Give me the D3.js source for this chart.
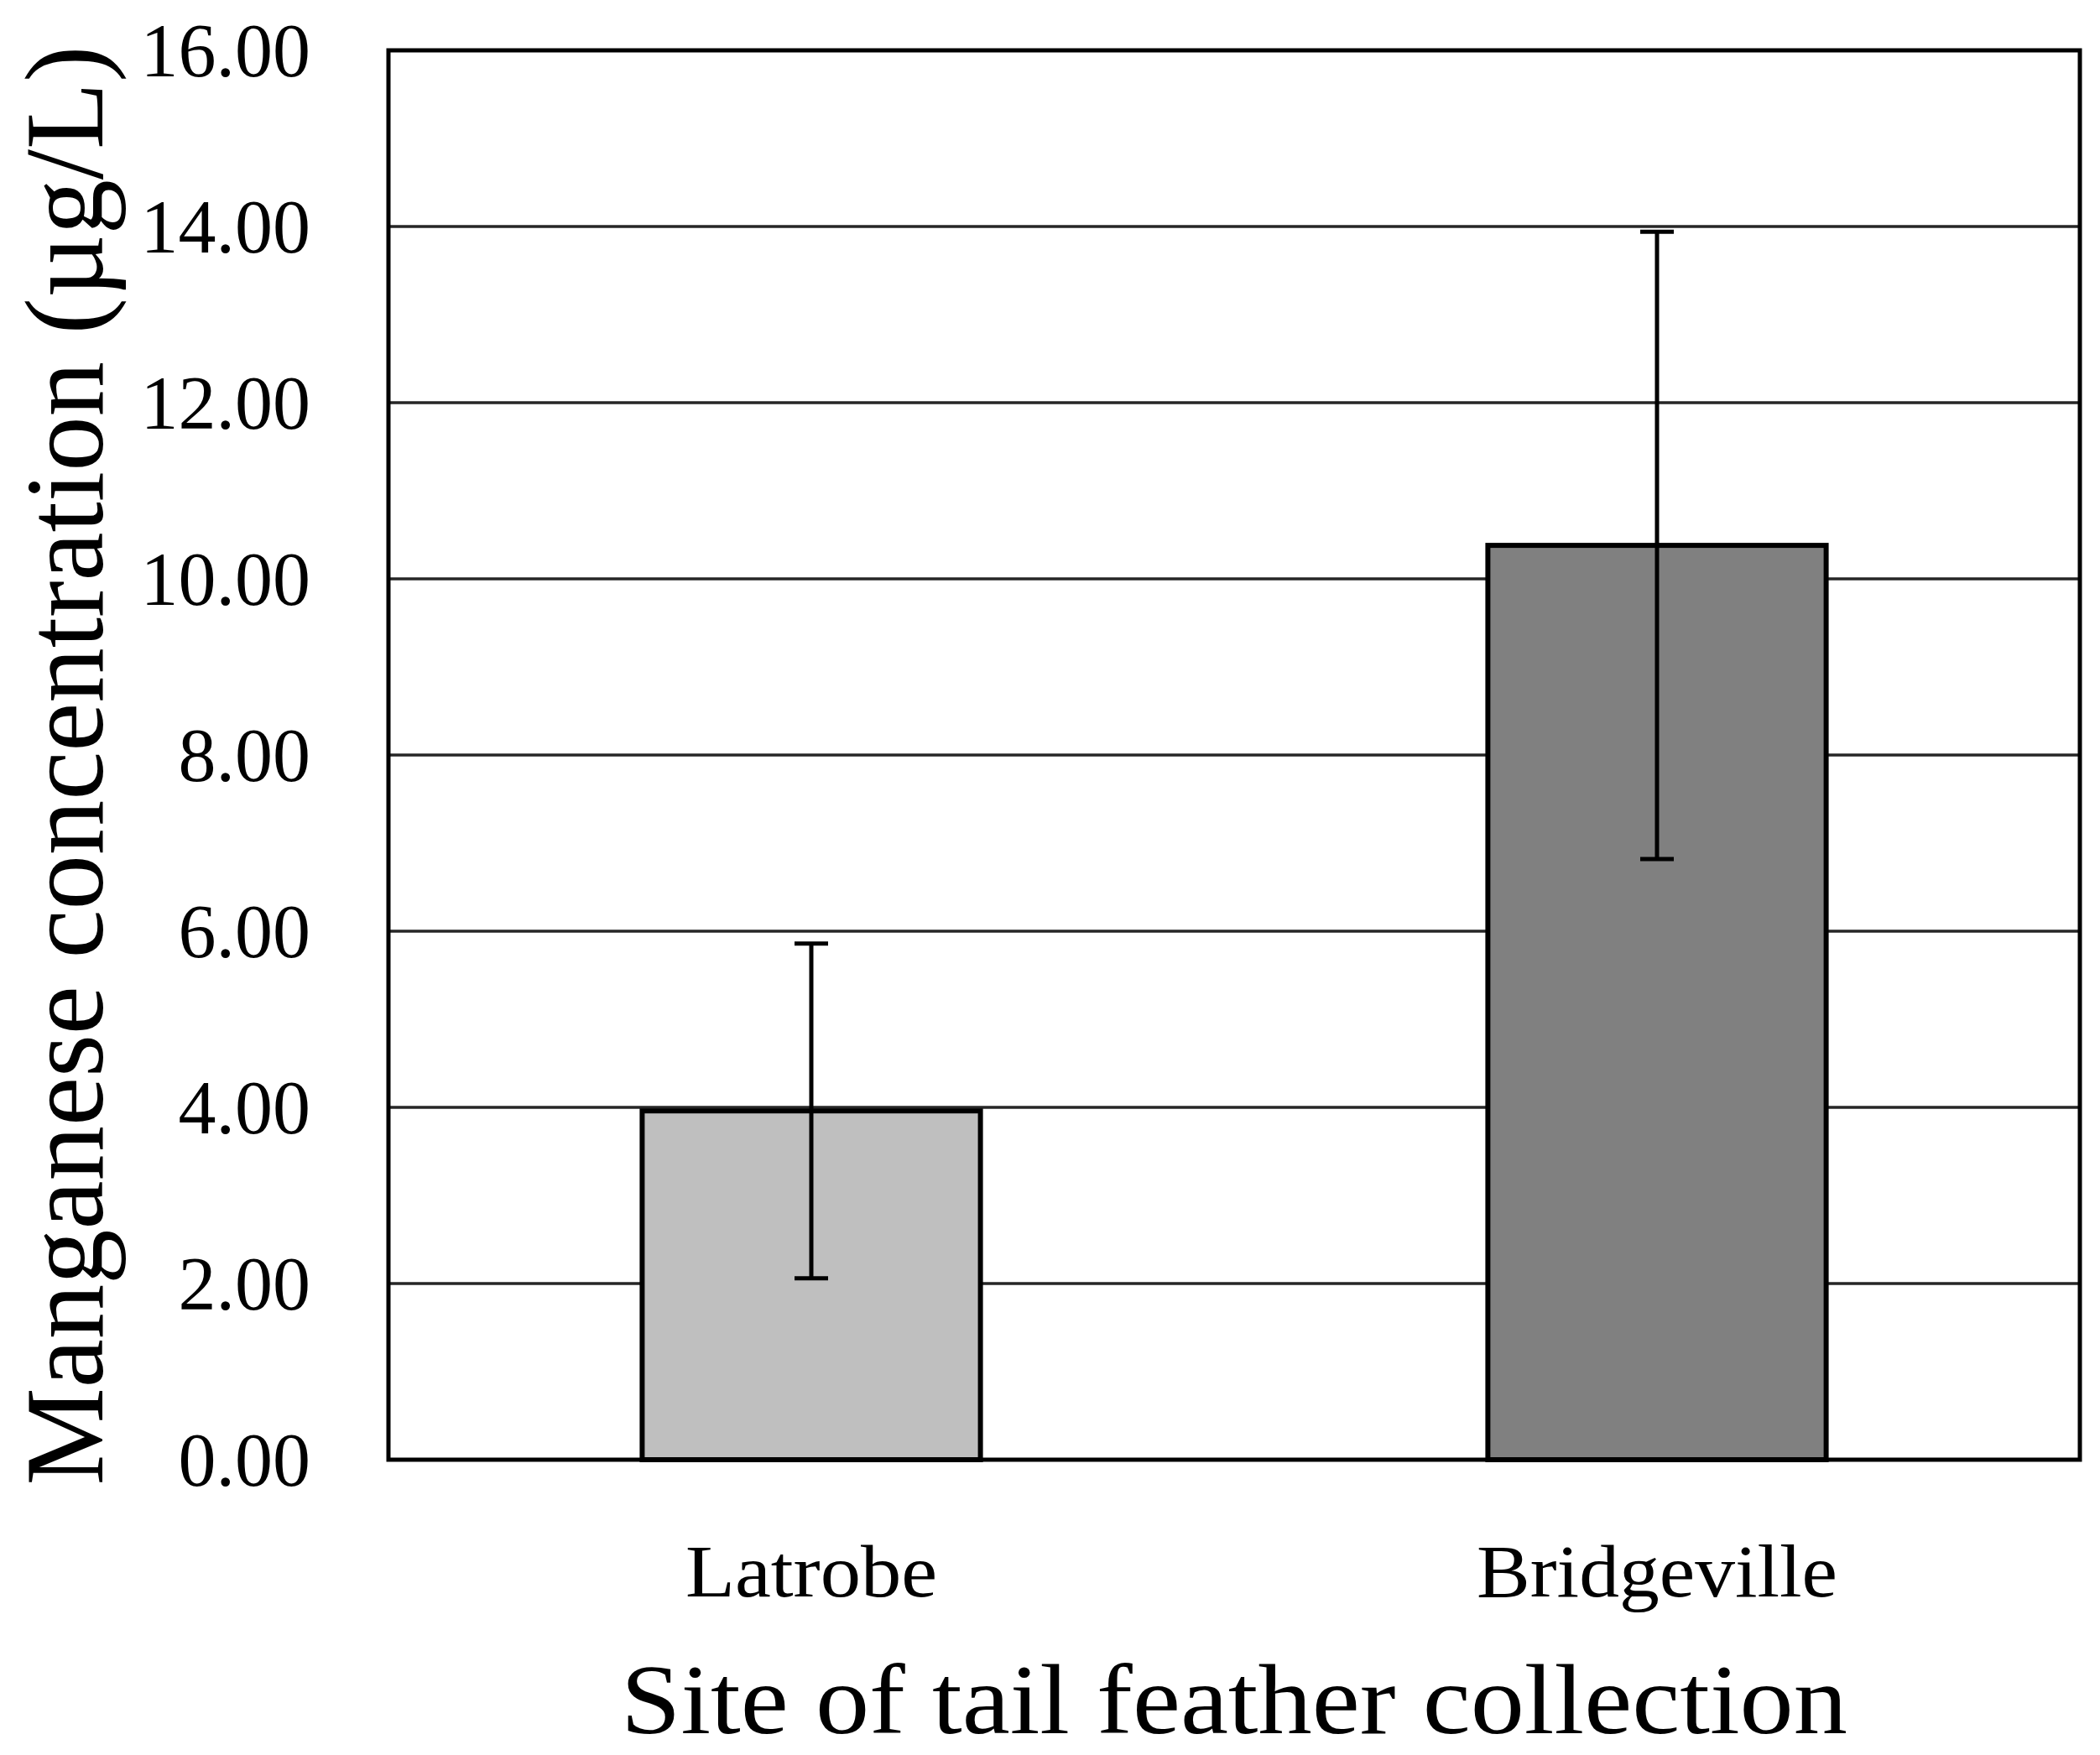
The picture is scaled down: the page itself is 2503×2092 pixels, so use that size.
<!DOCTYPE html>
<html>
<head>
<meta charset="utf-8">
<script src="https://cdn.jsdelivr.net/npm/d3@7"></script>
<style>
  html, body { margin: 0; padding: 0; background: #fff; }
  svg { display: block; }
</style>
</head>
<body>
<svg id="chart" width="2503" height="2092"></svg>
<script>
const categories = ["Latrobe", "Bridgeville"];
const means = [3.96, 10.38];
const errors = [1.90, 3.56];
const barColors = ["#bfbfbf", "#808080"];
const yTicks = [0, 2, 4, 6, 8, 10, 12, 14, 16];
const yTitle = "Manganese concentration (\u00b5g/L)";
const xTitle = "Site of tail feather collection";

const W = 2503, H = 2092;
const margin = { left: 463, right: 24, top: 60, bottom: 352 };
const svg = d3.select("#chart");
const font = "'Liberation Serif', 'DejaVu Serif', serif";

const x = d3.scaleBand()
  .domain(categories)
  .range([margin.left, W - margin.right])
  .paddingInner(0.6)
  .paddingOuter(0.3);

const y = d3.scaleLinear()
  .domain([0, 16])
  .range([H - margin.bottom, margin.top]);

// gridlines
svg.append("g")
  .selectAll("line")
  .data(yTicks.filter(d => d > 0 && d < 16))
  .join("line")
  .attr("x1", margin.left)
  .attr("x2", W - margin.right)
  .attr("y1", d => y(d))
  .attr("y2", d => y(d))
  .attr("stroke", "#262626")
  .attr("stroke-width", 3.5);

// bars
svg.append("g")
  .selectAll("rect")
  .data(categories)
  .join("rect")
  .attr("x", d => x(d))
  .attr("width", x.bandwidth())
  .attr("y", (d, i) => y(means[i]))
  .attr("height", (d, i) => y(0) - y(means[i]))
  .attr("fill", (d, i) => barColors[i])
  .attr("stroke", "#000")
  .attr("stroke-width", 6);

// plot border
svg.append("rect")
  .attr("x", margin.left)
  .attr("y", margin.top)
  .attr("width", W - margin.right - margin.left)
  .attr("height", H - margin.bottom - margin.top)
  .attr("fill", "none")
  .attr("stroke", "#000")
  .attr("stroke-width", 5);

// error bars
const eg = svg.append("g").attr("stroke", "#000").attr("stroke-width", 5);
categories.forEach((c, i) => {
  const cx = x(c) + x.bandwidth() / 2;
  const capHalf = 20;
  eg.append("line").attr("x1", cx).attr("x2", cx)
    .attr("y1", y(means[i] + errors[i])).attr("y2", y(means[i] - errors[i]));
  eg.append("line").attr("x1", cx - capHalf).attr("x2", cx + capHalf)
    .attr("y1", y(means[i] + errors[i])).attr("y2", y(means[i] + errors[i]));
  eg.append("line").attr("x1", cx - capHalf).attr("x2", cx + capHalf)
    .attr("y1", y(means[i] - errors[i])).attr("y2", y(means[i] - errors[i]));
});

// y axis tick labels
const yAxis = d3.axisLeft(y).tickValues(yTicks).tickFormat(d3.format(".2f")).tickSize(0).tickPadding(93);
const ya = svg.append("g").attr("transform", `translate(${margin.left},0)`).call(yAxis);
ya.select(".domain").remove();
ya.selectAll("text")
  .attr("font-family", font)
  .attr("font-size", 90)
  .attr("fill", "#000")
  .attr("dy", "0.34em");

// x axis labels
const xAxis = d3.axisBottom(x).tickSize(0).tickPadding(0);
const xa = svg.append("g").attr("transform", `translate(0,${H - margin.bottom})`).call(xAxis);
xa.select(".domain").remove();
xa.selectAll("text")
  .attr("font-family", font)
  .attr("font-size", 88)
  .attr("fill", "#000")
  .attr("y", 163)
  .attr("dy", 0)
  .attr("textLength", (d, i) => [300, 430][i])
  .attr("lengthAdjust", "spacingAndGlyphs");

// axis titles
svg.append("text")
  .attr("transform", `translate(122, ${(1772 + 53) / 2}) rotate(-90)`)
  .attr("text-anchor", "middle")
  .attr("font-family", font)
  .attr("font-size", 134)
  .attr("textLength", 1716)
  .attr("lengthAdjust", "spacingAndGlyphs")
  .text(yTitle);

svg.append("text")
  .attr("x", (margin.left + W - margin.right) / 2)
  .attr("y", 2066)
  .attr("text-anchor", "middle")
  .attr("font-family", font)
  .attr("font-size", 118)
  .attr("textLength", 1462)
  .attr("lengthAdjust", "spacingAndGlyphs")
  .text(xTitle);
</script>
</body>
</html>
